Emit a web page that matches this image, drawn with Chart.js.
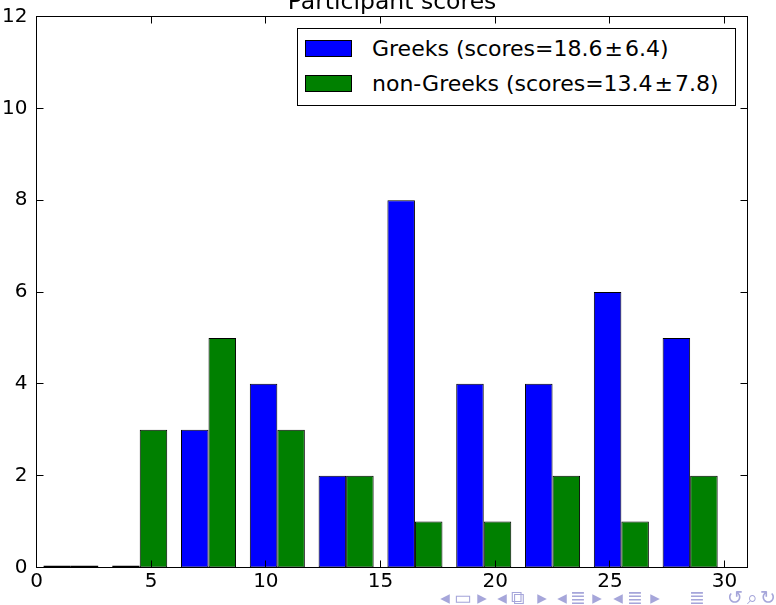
<!DOCTYPE html>
<html>
<head>
<meta charset="utf-8">
<script src="https://cdn.jsdelivr.net/npm/chart.js@4/dist/chart.umd.min.js"></script>
<style>
    body { margin: 0; background: #fff; }
    #wrap { position: relative; width: 776px; height: 605px; overflow: hidden; font-family: 'DejaVu Sans', sans-serif; }
    #legend {
        position: absolute; left: 297px; top: 28px; width: 439px; height: 78px;
        border: 1px solid #000; background: #fff; box-sizing: border-box;
    }
    .item { position: absolute; left: 0; height: 26px; font-size: 22px; line-height: 26px; white-space: nowrap; color: #000; }
    .patch { position: absolute; left: 7px; top: 4px; width: 47px; height: 17px; border: 1px solid #000; box-sizing: border-box; }
    .label { position: absolute; left: 74px; top: 0; }
    .pm { padding: 0 2px; }
    #nav span { position: absolute; top: 586px; font-size: 19px; color: #a6a6da; transform: translateX(-50%); }
</style>
</head>
<body>
<div id="wrap">
    <canvas id="histChart" width="776" height="605"></canvas>
    <div id="legend"></div>
    <div id="nav"></div>
</div>
<script>
// histogram bins are 3 points wide, 0 to 30
const binCenters = [1.5, 4.5, 7.5, 10.5, 13.5, 16.5, 19.5, 22.5, 25.5, 28.5];
const greekCounts = [0, 0, 3, 4, 2, 8, 4, 4, 6, 5];
const nonGreekCounts = [0, 3, 5, 3, 2, 1, 1, 2, 1, 2];
const seriesLabels = ['Greeks (scores=18.6\u00b16.4)', 'non-Greeks (scores=13.4\u00b17.8)'];
const seriesColors = ['#0000ff', '#008000'];
const xTicks = [0, 5, 10, 15, 20, 25, 30];
const yTicks = [0, 2, 4, 6, 8, 10, 12];
const chartTitle = 'Participant scores';

Chart.defaults.font.family = "'DejaVu Sans', sans-serif";
Chart.defaults.font.size = 20;
Chart.defaults.color = '#000';

function toPoints(counts) {
    return counts.map((c, i) => ({ x: binCenters[i], y: c }));
}

// matplotlib-style box around the axes, ticks pointing inward, and the title
const framePlugin = {
    id: 'frame',
    afterDraw(chart) {
        const ctx = chart.ctx;
        const ca = chart.chartArea;
        const xs = chart.scales.x;
        const ys = chart.scales.y;
        const len = 7;
        ctx.save();
        ctx.strokeStyle = '#000';
        ctx.lineWidth = 1;
        ctx.strokeRect(ca.left, ca.top, ca.right - ca.left, ca.bottom - ca.top);
        ctx.beginPath();
        xTicks.forEach(v => {
            const px = Math.floor(xs.getPixelForValue(v)) + 0.5;
            ctx.moveTo(px, ca.bottom);
            ctx.lineTo(px, ca.bottom - len);
            ctx.moveTo(px, ca.top);
            ctx.lineTo(px, ca.top + len);
        });
        yTicks.forEach(v => {
            const py = Math.floor(ys.getPixelForValue(v)) + 0.5;
            ctx.moveTo(ca.left, py);
            ctx.lineTo(ca.left + len, py);
            ctx.moveTo(ca.right, py);
            ctx.lineTo(ca.right - len, py);
        });
        ctx.stroke();
        ctx.fillStyle = '#000';
        ctx.font = "23.5px 'DejaVu Sans', sans-serif";
        ctx.textAlign = 'center';
        ctx.textBaseline = 'alphabetic';
        ctx.fillText(chartTitle, (ca.left + ca.right) / 2, 9);
        ctx.restore();
    }
};

const histCanvas = document.getElementById('histChart').getContext('2d');
const histChart = new Chart(histCanvas, {
    type: 'bar',
    data: {
        datasets: [
            {
                label: seriesLabels[0],
                data: toPoints(greekCounts),
                backgroundColor: seriesColors[0],
            },
            {
                label: seriesLabels[1],
                data: toPoints(nonGreekCounts),
                backgroundColor: seriesColors[1],
            },
        ]
    },
    options: {
        responsive: false,
        animation: false,
        devicePixelRatio: 1,
        layout: {
            padding: { top: 16.5, right: 28.5, left: 0, bottom: 0 }
        },
        datasets: {
            bar: {
                borderColor: '#000',
                borderWidth: 1,
                borderSkipped: false,
                categoryPercentage: 0.8,
                barPercentage: 1.0,
                minBarLength: 2,
            }
        },
        scales: {
            x: {
                type: 'linear',
                min: 0,
                max: 31,
                offset: false,
                grid: { display: false, drawTicks: false },
                border: { display: false },
                ticks: { padding: 2, maxRotation: 0 },
                afterBuildTicks: function(scale) {
                    scale.ticks = xTicks.map(v => ({ value: v }));
                },
                afterFit: function(scale) {
                    scale.height = 37.5;
                    scale.paddingLeft = 0;
                    scale.paddingRight = 0;
                }
            },
            y: {
                min: 0,
                max: 12,
                grid: { display: false, drawTicks: false },
                border: { display: false },
                ticks: { padding: 9 },
                afterBuildTicks: function(scale) {
                    scale.ticks = yTicks.map(v => ({ value: v }));
                },
                afterFit: function(scale) {
                    scale.width = 36.5;
                    scale.paddingTop = 0;
                    scale.paddingBottom = 0;
                }
            }
        },
        plugins: {
            legend: { display: false },
            title: { display: false },
            tooltip: { enabled: false }
        }
    },
    plugins: [framePlugin]
});

// legend box inside the upper right of the axes
const legendBox = document.getElementById('legend');
histChart.data.datasets.forEach((ds, i) => {
    const item = document.createElement('div');
    item.className = 'item';
    item.style.top = (7 + i * 35) + 'px';
    const parts = ds.label.split('\u00b1');
    item.innerHTML = '<span class="patch" style="background:' + ds.backgroundColor + '"></span>' +
        '<span class="label">' + parts[0] + '<span class="pm">\u00b1</span>' + parts[1] + '</span>';
    legendBox.appendChild(item);
});

// beamer navigation symbols
const navSymbols = [
    ['\u25c2', 445], ['\u25ad', 463], ['\u25b8', 482],
    ['\u25c2', 502], ['\u29c9', 518], ['\u25b8', 542],
    ['\u25c2', 562], ['\u2263', 578], ['\u25b8', 597],
    ['\u25c2', 618], ['\u2263', 635], ['\u25b8', 655],
    ['\u2263', 697], ['\u21ba', 735], ['\u2315', 752], ['\u21bb', 768]
];
const nav = document.getElementById('nav');
navSymbols.forEach(s => {
    const span = document.createElement('span');
    span.textContent = s[0];
    span.style.left = s[1] + 'px';
    nav.appendChild(span);
});
</script>
</body>
</html>
